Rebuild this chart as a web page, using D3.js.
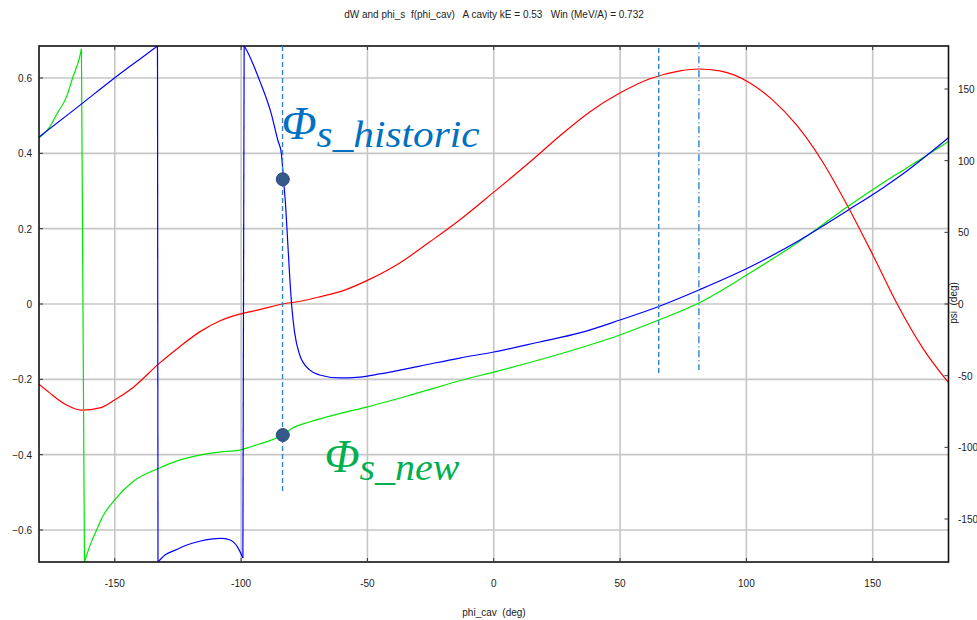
<!DOCTYPE html>
<html><head><meta charset="utf-8">
<script src="https://cdn.jsdelivr.net/npm/d3@7"></script>
<style>
html,body{margin:0;padding:0;background:#fff;}
svg{display:block;}
text{font-family:"Liberation Sans",Arial,sans-serif;}
</style></head>
<body>
<script>
// ---------- data ----------
const titleText = "dW and phi_s  f(phi_cav)   A cavity kE = 0.53   Win (MeV/A) = 0.732";
const xLabel = "phi_cav  (deg)";
const rightLabel = "psi  (deg)";

const xTicks = [-150, -100, -50, 0, 50, 100, 150];
const leftTicks = [-0.6, -0.4, -0.2, 0, 0.2, 0.4, 0.6];
const rightTicks = [-150, -100, -50, 0, 50, 100, 150];

// dW (left axis)
const phiCavRed = [-180, -175.8, -169.1, -162.8, -156, -150.1, -143, -132.3, -124.4, -116.4, -108.5, -100.6, -92.7, -83.6, -76, -68.9, -59, -49, -37.2, -25.3, -13.5, 0, 14.3, 26.1, 38, 49.9, 61.8, 73.7, 81.2, 89.5, 101.4, 110, 120, 130, 140, 150, 160, 170, 180];
const dW = [-0.213, -0.236, -0.268, -0.282, -0.276, -0.255, -0.223, -0.157, -0.114, -0.074, -0.045, -0.027, -0.015, 0.0, 0.008, 0.019, 0.037, 0.066, 0.109, 0.165, 0.223, 0.297, 0.377, 0.446, 0.51, 0.56, 0.598, 0.619, 0.624, 0.619, 0.587, 0.544, 0.474, 0.379, 0.261, 0.131, -0.004, -0.119, -0.209];

// phi_s historic (right axis, deg)
const phiCavBlue = [-180, -165, -150.1, -140, -133.1, -132.9, -130, -126, -122, -116.4, -112, -108, -104.6, -101.4, -99.3, -98.8, -97.8, -92.7, -88.1, -85.5, -84.1, -83.2, -82.4, -81.6, -80.8, -80, -78.8, -76.8, -72.9, -68.9, -61, -53.1, -45.1, -29.3, -13.5, 0, 18.2, 34, 49.9, 65.3, 81.2, 101.4, 121.2, 141, 154, 160.8, 180];
const phiSHistoric = [116.5, 137, 157.7, 171, 180, -180, -175, -171.7, -168.5, -165.5, -164, -163.5, -164.5, -169.6, -177.2, 180, 177, 156, 133, 114.4, 105.4, 86.5, 69.1, 44.7, 20.2, -0.7, -20.2, -35.6, -46, -49.5, -51.6, -51, -48.8, -43.3, -37.7, -33.5, -26.5, -20.2, -11.2, -1.7, 9.8, 25.8, 44.7, 66.3, 81, 89.3, 116];

// phi_s new (right axis, deg)
const phiCavGreen = [-180, -175.8, -172.7, -169.1, -166.7, -164, -163.2, -162, -159.5, -157.2, -154.9, -150.1, -143, -132.3, -124.4, -116.4, -108.5, -100.6, -96.6, -92.7, -83.6, -79.6, -72.9, -61, -50.3, -30, -12.3, 0, 26.1, 49.9, 65.3, 81.2, 101.4, 121.2, 141, 154, 160.8, 180];
const phiSNew = [115.8, 123.5, 133.3, 144.5, 157.7, 171.7, 178, -180, -167, -157.7, -148.6, -136.8, -124.2, -114.4, -108.9, -105.4, -103.3, -101.9, -99.8, -97.7, -91.4, -86.5, -82.3, -76.5, -71.9, -62, -53, -47.5, -34.9, -21.6, -11.2, 0.7, 21.6, 44, 69, 84.4, 92, 113.3];

// annotations
const guideX = [-83.6, 65.3, 81.2];
const guideTop = [0.685, 0.68, 0.695];
const guideBottom = [-0.5, -0.191, -0.175];
const markerX = [-83.5, -83.5];
const markerPsi = [87, -91.4];
const annoMain = ["\u03A6", "\u03A6"];
const annoSub = ["s_historic", "s_new"];
const annoX = [-84, -67];
const annoPsi = [115, -117];
const annoColor = ["#0070c0", "#00b050"];
const annoSubWidth = [163, 100];

// ---------- chart ----------
const W = 977, H = 620;
const L = 39, R = 948.5, T = 46, B = 562;

const svg = d3.select("body").append("svg").attr("width", W).attr("height", H);

const x = d3.scaleLinear().domain([-180, 180]).range([L, R]);
const yL = d3.scaleLinear().domain([-0.685, 0.685]).range([B, T]);
const yR = d3.scaleLinear().domain([-180, 180]).range([B, T]);

// grid
const grid = svg.append("g").attr("stroke", "#c6c6c6").attr("stroke-width", 1.6);
grid.selectAll(".gx").data(xTicks).join("line")
  .attr("x1", d => x(d)).attr("x2", d => x(d)).attr("y1", T).attr("y2", B);
grid.selectAll(".gy").data(leftTicks).join("line")
  .attr("x1", L).attr("x2", R).attr("y1", d => yL(d)).attr("y2", d => yL(d));

// clip
svg.append("clipPath").attr("id", "clip").append("rect")
  .attr("x", L).attr("y", T).attr("width", R - L).attr("height", B - T);

const plot = svg.append("g").attr("clip-path", "url(#clip)");

const lineL = d3.line().x(d => x(d[0])).y(d => yL(d[1])).curve(d3.curveMonotoneX);
const lineR = d3.line().x(d => x(d[0])).y(d => yR(d[1])).curve(d3.curveMonotoneX);
const lineRlin = d3.line().x(d => x(d[0])).y(d => yR(d[1]));

// split a phase series at its ±180 wraps: smooth segments + straight wrap connectors
function drawPhase(xs, ys, color) {
  const pts = d3.zip(xs, ys);
  const segs = [[pts[0]]];
  const joins = [];
  for (let i = 1; i < pts.length; i++) {
    if (Math.abs(pts[i][1] - pts[i - 1][1]) > 200) {
      joins.push([pts[i - 1], pts[i]]);
      segs.push([pts[i]]);
    } else segs[segs.length - 1].push(pts[i]);
  }
  segs.forEach(s => plot.append("path").datum(s).attr("d", lineR)
    .attr("fill", "none").attr("stroke", color).attr("stroke-width", 1.2));
  joins.forEach(j => plot.append("path").datum(j).attr("d", lineRlin)
    .attr("fill", "none").attr("stroke", color).attr("stroke-width", 1.2));
}

plot.append("path").datum(d3.zip(phiCavRed, dW))
  .attr("d", lineL).attr("fill", "none").attr("stroke", "#ff0000").attr("stroke-width", 1.2);
drawPhase(phiCavGreen, phiSNew, "#00e600");
drawPhase(phiCavBlue, phiSHistoric, "#0000ff");

// frame
svg.append("rect").attr("x", L).attr("y", T).attr("width", R - L).attr("height", B - T)
  .attr("fill", "none").attr("stroke", "#111").attr("stroke-width", 1.6);

// ticks (inward)
const tk = svg.append("g").attr("stroke", "#333").attr("stroke-width", 1);
tk.selectAll(".tb").data(xTicks).join("line")
  .attr("x1", d => x(d)).attr("x2", d => x(d)).attr("y1", B).attr("y2", B - 4);
tk.selectAll(".tt").data(xTicks).join("line")
  .attr("x1", d => x(d)).attr("x2", d => x(d)).attr("y1", T).attr("y2", T + 4);
tk.selectAll(".tl").data(leftTicks).join("line")
  .attr("x1", L).attr("x2", L + 4).attr("y1", d => yL(d)).attr("y2", d => yL(d));
tk.selectAll(".tr").data(rightTicks).join("line")
  .attr("x1", R).attr("x2", R - 4).attr("y1", d => yR(d)).attr("y2", d => yR(d));

// tick labels
const fmtL = d => d === 0 ? "0" : d3.format(".1f")(d);
svg.append("g").selectAll("text").data(leftTicks).join("text")
  .attr("x", 32).attr("y", d => yL(d) + 4)
  .attr("text-anchor", "end").attr("font-size", 10).attr("fill", "#222").text(fmtL);
svg.append("g").selectAll("text").data(rightTicks).join("text")
  .attr("x", 958).attr("y", d => yR(d) + 4)
  .attr("text-anchor", "start").attr("font-size", 10).attr("fill", "#222").text(d => d);
svg.append("g").selectAll("text").data(xTicks).join("text")
  .attr("x", d => x(d)).attr("y", 587)
  .attr("text-anchor", "middle").attr("font-size", 10).attr("fill", "#222").text(d => d);

// titles
svg.append("text").attr("x", 494).attr("y", 18).attr("text-anchor", "middle")
  .attr("font-size", 10).attr("fill", "#222").style("white-space", "pre").text(titleText);
svg.append("text").attr("x", 494).attr("y", 616).attr("text-anchor", "middle")
  .attr("font-size", 10).attr("fill", "#222").style("white-space", "pre").text(xLabel);
svg.append("text").attr("transform", "translate(957,303) rotate(-90)").attr("text-anchor", "middle")
  .attr("font-size", 10).attr("fill", "#222").style("white-space", "pre").text(rightLabel);

// guides
const dashes = ["5,3", "5,3", "7,3,1,3"];
svg.append("g").selectAll("line").data(guideX).join("line")
  .attr("x1", d => x(d)).attr("x2", d => x(d))
  .attr("y1", (d, i) => yL(guideTop[i])).attr("y2", (d, i) => yL(guideBottom[i]))
  .attr("stroke", "#2e86c9").attr("stroke-width", 1.4)
  .attr("stroke-dasharray", (d, i) => dashes[i]);

// markers
svg.append("g").selectAll("circle").data(markerX).join("circle")
  .attr("cx", d => x(d)).attr("cy", (d, i) => yR(markerPsi[i])).attr("r", 6.5)
  .attr("fill", "#36598c").attr("stroke", "#2a4a7a").attr("stroke-width", 1);

// annotation texts
annoMain.forEach((m, i) => {
  const g = svg.append("text").attr("x", x(annoX[i])).attr("y", yR(annoPsi[i]))
    .attr("fill", annoColor[i]).style("font-family", "'Liberation Serif','DejaVu Serif',serif")
    .style("font-style", "italic");
  g.append("tspan").attr("font-size", 46).text(m);
  g.append("tspan").attr("font-size", 38).attr("dy", 8)
    .attr("textLength", annoSubWidth[i]).attr("lengthAdjust", "spacingAndGlyphs").text(annoSub[i]);
});
</script>
</body></html>
